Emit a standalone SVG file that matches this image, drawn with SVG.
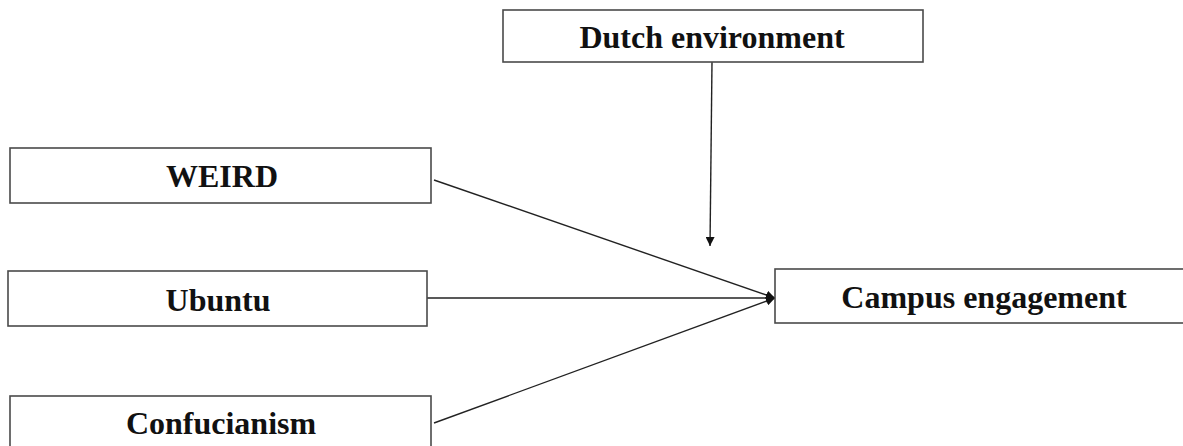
<svg xmlns="http://www.w3.org/2000/svg" width="1183" height="446" viewBox="0 0 1183 446">
<style>
.box{fill:#fff;stroke:#4a4a4a;stroke-width:1.6}
.lbl{font-family:"Liberation Serif","Times New Roman",serif;font-weight:bold;font-size:32px;fill:#111;text-anchor:middle}
.edge{stroke:#222;stroke-width:1.4;fill:none}
</style>
<defs>
<marker id="arr" viewBox="0 0 10 10" refX="10" refY="5" markerWidth="9" markerHeight="9" markerUnits="userSpaceOnUse" orient="auto">
<path d="M0,0 L10,5 L0,10 z" fill="#111"/>
</marker>
</defs>
<g id="connectors">
<line class="edge" x1="712" y1="62" x2="710" y2="246" marker-end="url(#arr)"/>
<line class="edge" x1="434" y1="180" x2="775" y2="298" marker-end="url(#arr)"/>
<line class="edge" x1="427" y1="298" x2="775" y2="298" marker-end="url(#arr)"/>
<line class="edge" x1="434" y1="423" x2="775" y2="298" marker-end="url(#arr)"/>
</g>
<g id="dutch"><rect class="box" x="503" y="10" width="420" height="52"/><text class="lbl" x="712" y="48">Dutch environment</text></g>
<g id="weird"><rect class="box" x="10" y="148" width="421" height="55"/><text class="lbl" x="222" y="187">WEIRD</text></g>
<g id="ubuntu"><rect class="box" x="8" y="271" width="419" height="55"/><text class="lbl" x="218" y="311">Ubuntu</text></g>
<g id="confucianism"><rect class="box" x="10" y="396" width="421" height="60"/><text class="lbl" x="221" y="434">Confucianism</text></g>
<g id="campus"><rect class="box" x="775" y="269" width="420" height="54"/><text class="lbl" x="984" y="308">Campus engagement</text></g>
</svg>
